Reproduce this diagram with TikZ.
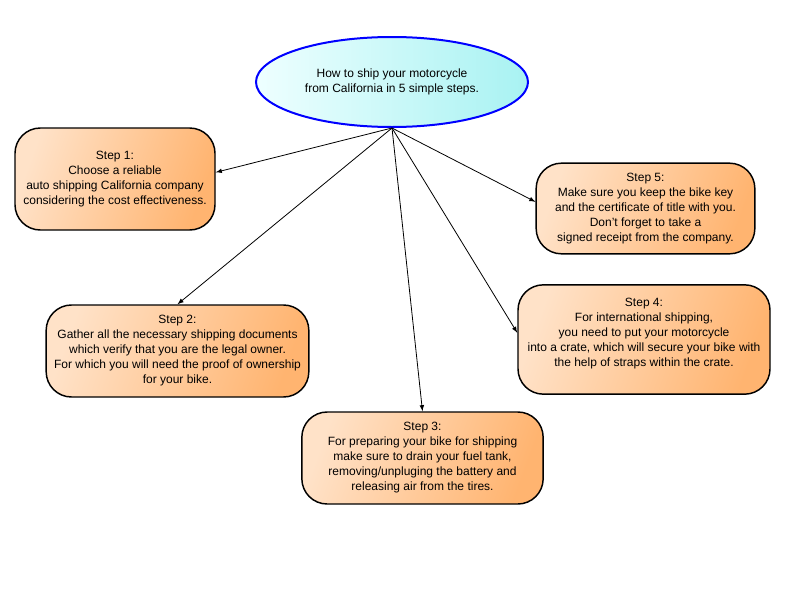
\documentclass[tikz,border=0pt]{standalone}
\usepackage{fontspec}
\setmainfont{Liberation Sans}
\usetikzlibrary{shapes.geometric}
\definecolor{peachl}{HTML}{FFE2C8}
\definecolor{peachr}{HTML}{FFB470}
\definecolor{cyanl}{HTML}{EEFFFF}
\definecolor{cyanr}{HTML}{A8F2F2}
\tikzset{
  stepbox/.style={draw, line width=1.1pt, rounded corners=19pt, align=center,
    left color=peachl, right color=peachr, shading angle=70,
    font=\fontsize{9}{11.25}\selectfont},
  link/.style={-latex, line width=0.6pt}
}
\begin{document}
\begin{tikzpicture}[x=0.75pt, y=-0.75pt]
\useasboundingbox (0,0) rectangle (800,600);

\node[ellipse, draw=blue, line width=1.5pt, left color=cyanl, right color=cyanr,
  minimum width=204pt, minimum height=67.5pt, align=center,
  font=\fontsize{9}{11.25}\selectfont] (title) at (392,82)
  {How to ship your motorcycle\\ from California in 5 simple steps.};

\node[stepbox, minimum width=150pt, minimum height=76.5pt] (s1) at (115,179)
  {Step 1:\\Choose a reliable\\auto shipping California company\\considering the cost effectiveness.};
\node[stepbox, minimum width=197pt, minimum height=69pt] (s2) at (177.5,351)
  {Step 2:\\Gather all the necessary shipping documents\\which verify that you are the legal owner.\\For which you will need the proof of ownership\\for your bike.};
\node[stepbox, minimum width=181pt, minimum height=69pt] (s3) at (422.5,458)
  {Step 3:\\For preparing your bike for shipping\\make sure to drain your fuel tank,\\removing/unpluging the battery and\\releasing air from the tires.};
\node[stepbox, minimum width=189pt, minimum height=82pt, text depth=11pt] (s4) at (644,339.5)
  {Step 4:\\For international shipping,\\you need to put your motorcycle\\into a crate, which will secure your bike with\\the help of straps within the crate.};
\node[stepbox, minimum width=164pt, minimum height=68pt] (s5) at (645.5,208.5)
  {Step 5:\\Make sure you keep the bike key\\ and the certificate of title with you.\\Don't forget to take a\\signed receipt from the company.};

\draw[link] (title.south) -- ([yshift=5pt]s1.east);
\draw[link] (title.south) -- (s2.north);
\draw[link] (title.south) -- (s3.north);
\draw[link] (title.south) -- ([yshift=5pt]s4.west);
\draw[link] (title.south) -- ([yshift=5pt]s5.west);

\end{tikzpicture}
\end{document}
